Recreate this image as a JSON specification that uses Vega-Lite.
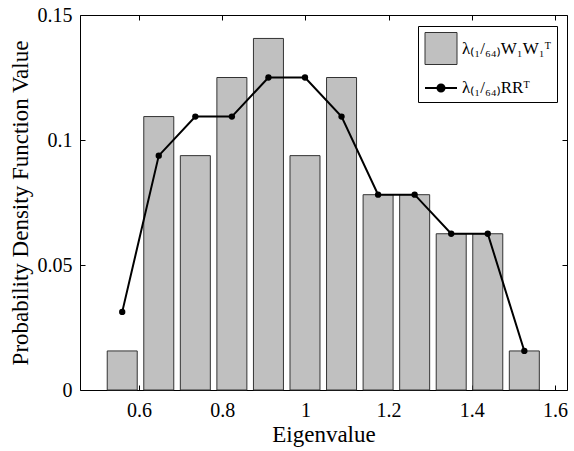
{
  "$schema": "https://vega.github.io/schema/vega-lite/v6.json",
  "width": 487,
  "height": 375,
  "autosize": {"type": "none"},
  "padding": {"left": 80, "top": 15, "right": 7, "bottom": 61},
  "background": "white",
  "config": {
    "font": "'Liberation Serif', 'Times New Roman', Times, serif",
    "view": {"stroke": "black", "strokeWidth": 1},
    "axis": {
      "grid": false,
      "domain": false,
      "tickColor": "black",
      "tickSize": -5,
      "labelFont": "'Liberation Serif', 'Times New Roman', Times, serif",
      "labelFontSize": 20,
      "labelColor": "black",
      "titleFont": "'Liberation Serif', 'Times New Roman', Times, serif",
      "titleFontSize": 23,
      "titleFontWeight": "normal",
      "titleColor": "black"
    }
  },
  "data": {
    "values": [
      {"series": "A", "x": 0.5595, "p": 0.015625},
      {"series": "A", "x": 0.6474, "p": 0.109375},
      {"series": "A", "x": 0.7353, "p": 0.09375},
      {"series": "A", "x": 0.8232, "p": 0.125},
      {"series": "A", "x": 0.9111, "p": 0.140625},
      {"series": "A", "x": 0.999, "p": 0.09375},
      {"series": "A", "x": 1.0869, "p": 0.125},
      {"series": "A", "x": 1.1748, "p": 0.078125},
      {"series": "A", "x": 1.2627, "p": 0.078125},
      {"series": "A", "x": 1.3506, "p": 0.0625},
      {"series": "A", "x": 1.4385, "p": 0.0625},
      {"series": "A", "x": 1.5264, "p": 0.015625},
      {"series": "B", "x": 0.5595, "p": 0.03125},
      {"series": "B", "x": 0.6474, "p": 0.09375},
      {"series": "B", "x": 0.7353, "p": 0.109375},
      {"series": "B", "x": 0.8232, "p": 0.109375},
      {"series": "B", "x": 0.9111, "p": 0.125},
      {"series": "B", "x": 0.999, "p": 0.125},
      {"series": "B", "x": 1.0869, "p": 0.109375},
      {"series": "B", "x": 1.1748, "p": 0.078125},
      {"series": "B", "x": 1.2627, "p": 0.078125},
      {"series": "B", "x": 1.3506, "p": 0.0625},
      {"series": "B", "x": 1.4385, "p": 0.0625},
      {"series": "B", "x": 1.5264, "p": 0.015625}
    ]
  },
  "resolve": {"axis": {"x": "independent", "y": "independent"}},
  "layer": [
    {
      "transform": [{"filter": "datum.series == 'A'"}],
      "mark": {"type": "bar", "width": 30},
      "encoding": {
        "x": {
          "field": "x", "type": "quantitative",
          "scale": {"domain": [0.47, 1.617], "nice": false, "zero": false},
          "axis": {"orient": "bottom", "values": [0.6, 0.8, 1, 1.2, 1.4, 1.6], "format": ".2~g", "labelPadding": 15, "title": "Eigenvalue", "titlePadding": 3}
        },
        "y": {
          "field": "p", "type": "quantitative",
          "scale": {"domain": [0, 0.15], "nice": false},
          "axis": {"orient": "left", "values": [0, 0.05, 0.1, 0.15], "format": ".2~g", "labelPadding": 13, "title": "Probability Density Function Value", "titlePadding": 5}
        },
        "fill": {
          "field": "series", "type": "nominal",
          "scale": {"domain": ["A", "B"], "range": ["#c0c0c0", "black"]},
          "legend": {
            "title": null, "orient": "none", "legendX": 338, "legendY": 11,
            "labelExpr": "datum.value == 'A' ? 'λ₍₁/₆₄₎W₁W₁ᵀ' : 'λ₍₁/₆₄₎RRᵀ'",
            "symbolType": {"expr": "datum.value == 'B' ? 'M-1,0H1M0.22,0A0.22,0.22 0 1,1 -0.22,0A0.22,0.22 0 1,1 0.22,0' : 'M-1,-1H1V1H-1Z'"},
            "symbolSize": 1024,
            "strokeColor": "black", "fillColor": "white", "padding": 6,
            "labelFont": "'Liberation Serif', 'Times New Roman', Times, serif", "labelFontSize": 17, "labelColor": "black", "labelOffset": 4, "rowPadding": 4
          }
        },
        "stroke": {
          "field": "series", "type": "nominal",
          "scale": {"domain": ["A", "B"], "range": ["#333333", "black"]},
          "legend": {
            "title": null, "orient": "none", "legendX": 338, "legendY": 11,
            "labelExpr": "datum.value == 'A' ? 'λ₍₁/₆₄₎W₁W₁ᵀ' : 'λ₍₁/₆₄₎RRᵀ'",
            "symbolType": {"expr": "datum.value == 'B' ? 'M-1,0H1M0.22,0A0.22,0.22 0 1,1 -0.22,0A0.22,0.22 0 1,1 0.22,0' : 'M-1,-1H1V1H-1Z'"},
            "symbolSize": 1024,
            "strokeColor": "black", "fillColor": "white", "padding": 6,
            "labelFont": "'Liberation Serif', 'Times New Roman', Times, serif", "labelFontSize": 17, "labelColor": "black", "labelOffset": 4, "rowPadding": 4
          }
        },
        "strokeWidth": {
          "field": "series", "type": "nominal",
          "scale": {"domain": ["A", "B"], "range": [1, 2]},
          "legend": {
            "title": null, "orient": "none", "legendX": 338, "legendY": 11,
            "labelExpr": "datum.value == 'A' ? 'λ₍₁/₆₄₎W₁W₁ᵀ' : 'λ₍₁/₆₄₎RRᵀ'",
            "symbolType": {"expr": "datum.value == 'B' ? 'M-1,0H1M0.22,0A0.22,0.22 0 1,1 -0.22,0A0.22,0.22 0 1,1 0.22,0' : 'M-1,-1H1V1H-1Z'"},
            "symbolSize": 1024,
            "strokeColor": "black", "fillColor": "white", "padding": 6,
            "labelFont": "'Liberation Serif', 'Times New Roman', Times, serif", "labelFontSize": 17, "labelColor": "black", "labelOffset": 4, "rowPadding": 4
          }
        }
      }
    },
    {
      "transform": [{"filter": "datum.series == 'B'"}],
      "mark": {"type": "line"},
      "encoding": {
        "x": {"field": "x", "type": "quantitative", "axis": {"orient": "top", "values": [0.6, 0.8, 1, 1.2, 1.4, 1.6], "labels": false, "title": null}},
        "y": {"field": "p", "type": "quantitative", "axis": {"orient": "right", "values": [0, 0.05, 0.1, 0.15], "labels": false, "title": null}},
        "stroke": {"field": "series", "type": "nominal"},
        "strokeWidth": {"field": "series", "type": "nominal"}
      }
    },
    {
      "transform": [{"filter": "datum.series == 'B'"}],
      "mark": {"type": "point", "filled": true, "size": 40, "opacity": 1},
      "encoding": {
        "x": {"field": "x", "type": "quantitative", "axis": null},
        "y": {"field": "p", "type": "quantitative", "axis": null},
        "fill": {"field": "series", "type": "nominal"}
      }
    }
  ]
}
